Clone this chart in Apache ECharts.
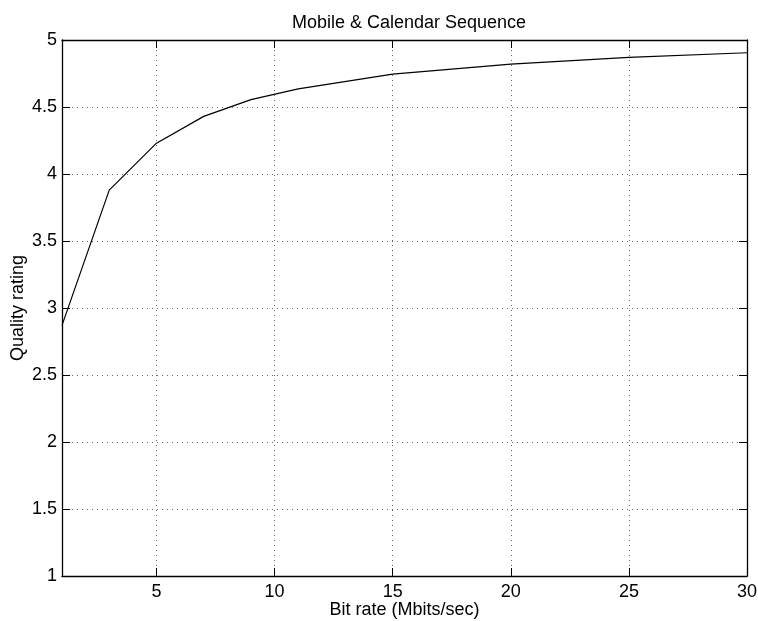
<!DOCTYPE html>
<html>
<head>
<meta charset="utf-8">
<script src="https://cdn.jsdelivr.net/npm/echarts@6/dist/echarts.min.js"></script>
<style>
  html, body { margin: 0; padding: 0; background: #fff; }
  #chart { width: 758px; height: 621px; }
</style>
</head>
<body>
<div id="chart"></div>
<script>
// bit rate (Mbits/sec) and quality rating
var bitRates = [1, 3, 5, 7, 9, 11, 15, 20, 25, 30];
var quality = [2.87, 3.88, 4.23, 4.43, 4.555, 4.635, 4.745, 4.82, 4.87, 4.905];

var FONT = "Liberation Sans";
var points = bitRates.map(function (x, i) { return [x, quality[i]]; });

var chart = echarts.init(document.getElementById("chart"));

var tickStyle = { show: true, inside: true, length: 8, lineStyle: { color: "#000", width: 1 } };
var lineStyle = { show: true, lineStyle: { color: "#000", width: 1.3 } };
var gridLine = { show: true, lineStyle: { color: "#666", width: 1, type: [1, 4] } };

var option = {
  animation: false,
  backgroundColor: "#fff",
  title: {
    text: "Mobile & Calendar Sequence",
    left: 404,
    textAlign: "center",
    top: 9,
    textStyle: { fontFamily: FONT, fontSize: 18, fontWeight: "normal", color: "#000" }
  },
  grid: { left: 62, right: 11, top: 40, bottom: 45, containLabel: false, outerBoundsMode: "none" },
  xAxis: [
    {
      type: "value",
      min: 1,
      max: 30,
      splitNumber: 6,
      position: "bottom",
      axisLine: lineStyle,
      axisTick: tickStyle,
      splitLine: gridLine,
      axisLabel: { showMinLabel: false, margin: 7, fontFamily: FONT, fontSize: 18, color: "#000" },
      name: "Bit rate (Mbits/sec)",
      nameLocation: "middle",
      nameGap: 25,
      nameMoveOverlap: false,
      nameTextStyle: { fontFamily: FONT, fontSize: 18, color: "#000" }
    },
    {
      type: "value",
      min: 1,
      max: 30,
      splitNumber: 6,
      position: "top",
      axisLine: lineStyle,
      axisTick: tickStyle,
      splitLine: { show: false },
      axisLabel: { show: false }
    }
  ],
  yAxis: [
    {
      type: "value",
      min: 1,
      max: 5,
      interval: 0.5,
      position: "left",
      axisLine: lineStyle,
      axisTick: tickStyle,
      splitLine: gridLine,
      axisLabel: { margin: 5, fontFamily: FONT, fontSize: 18, color: "#000" },
      name: "Quality rating",
      nameLocation: "middle",
      nameGap: 35,
      nameMoveOverlap: false,
      nameTextStyle: { fontFamily: FONT, fontSize: 18, color: "#000" }
    },
    {
      type: "value",
      min: 1,
      max: 5,
      interval: 0.5,
      position: "right",
      axisLine: lineStyle,
      axisTick: tickStyle,
      splitLine: { show: false },
      axisLabel: { show: false }
    }
  ],
  series: [
    {
      type: "line",
      xAxisIndex: 0,
      yAxisIndex: 0,
      data: points,
      symbol: "none",
      lineStyle: { color: "#000", width: 1.2 }
    }
  ]
};

option && chart.setOption(option);
</script>
</body>
</html>
